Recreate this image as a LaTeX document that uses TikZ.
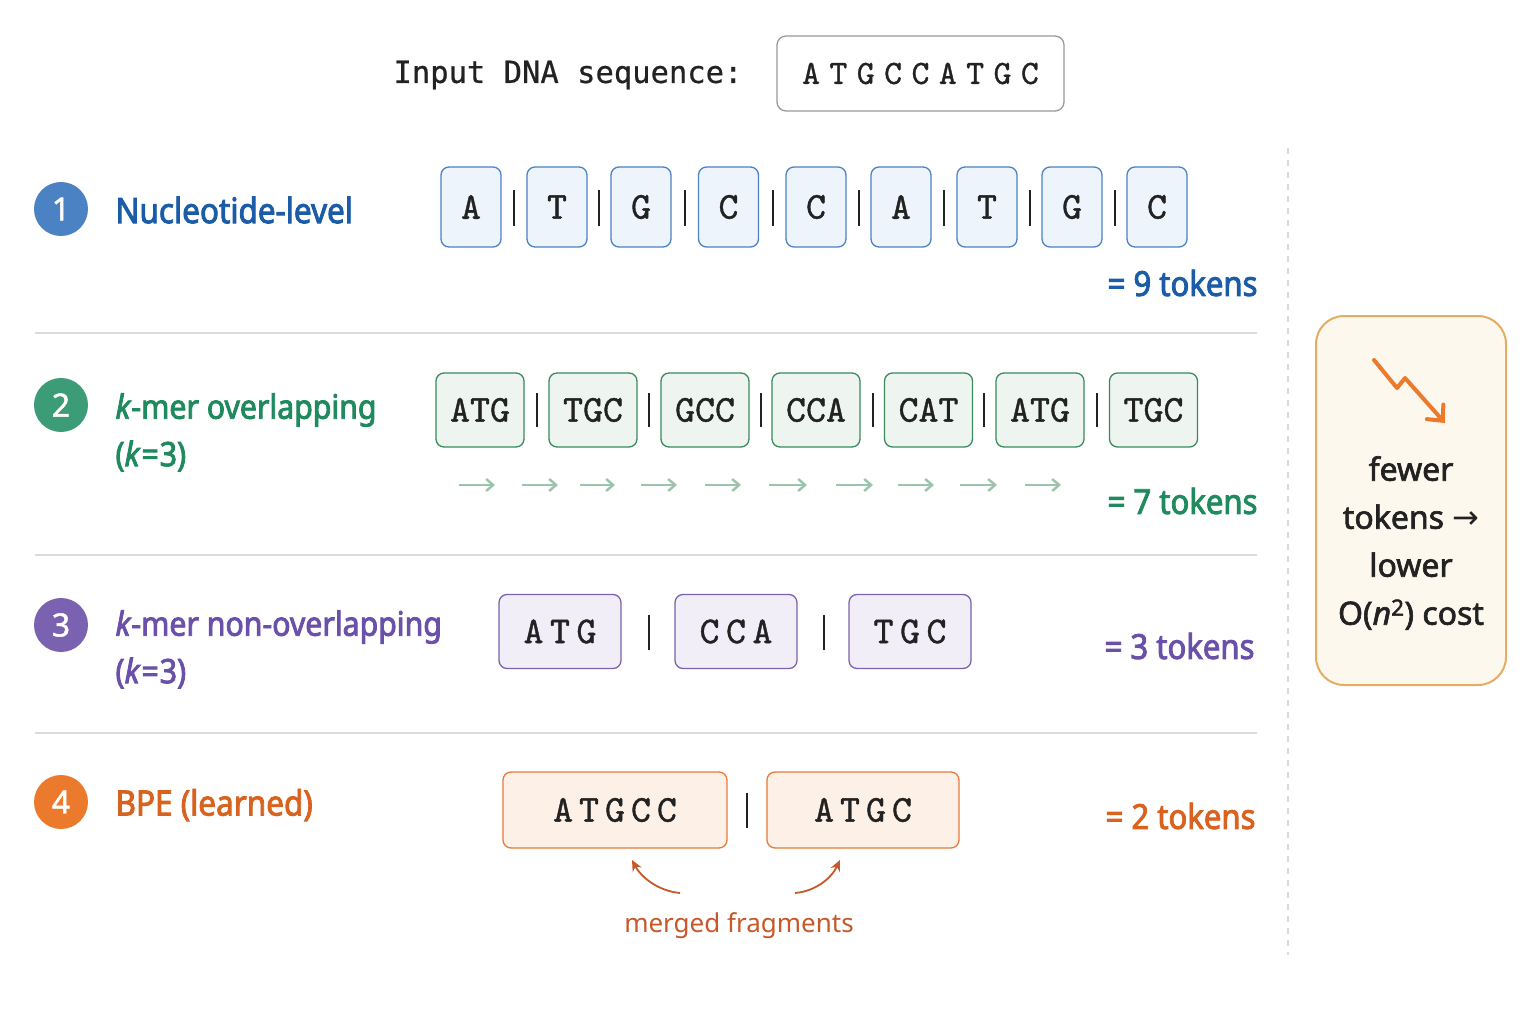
\documentclass[tikz,border=0pt]{standalone}
\usepackage{fontspec}
\setmainfont{Noto Sans}
\setmonofont{lmmono10-regular}[Extension=.otf, FakeBold=1.0]
\newfontfamily\labf{Noto Sans}[FakeStretch=0.9, FakeBold=2.5]
\newfontfamily\inmono{DejaVu Sans Mono}[FakeBold=0.6]
\newfontfamily\boxf{Noto Sans}[FakeBold=2.0]
\newfontfamily\numf{Noto Sans}[FakeBold=1.5]
\newfontfamily\dv{DejaVu Sans}
\usetikzlibrary{arrows.meta}
\definecolor{cblue}{HTML}{4A82C4}
\definecolor{tblue}{HTML}{1A5CA8}
\definecolor{fblue}{HTML}{EEF4FC}
\definecolor{cgreen}{HTML}{3D9C78}
\definecolor{tgreen}{HTML}{1F8A5E}
\definecolor{bgreen}{HTML}{3A8A5E}
\definecolor{fgreen}{HTML}{EEF5F0}
\definecolor{agreen}{HTML}{9CC4AC}
\definecolor{cpurple}{HTML}{7A62B0}
\definecolor{tpurple}{HTML}{6A50A8}
\definecolor{fpurple}{HTML}{F1EEF8}
\definecolor{corange}{HTML}{EC7A2C}
\definecolor{torange}{HTML}{D9621E}
\definecolor{borange}{HTML}{E8793A}
\definecolor{forange}{HTML}{FDF0E6}
\definecolor{morange}{HTML}{C8582A}
\definecolor{sepgray}{HTML}{DADADA}
\definecolor{darktext}{HTML}{222222}
\definecolor{rboxfill}{HTML}{FDF8EE}
\definecolor{rboxdraw}{HTML}{E5AD62}
\begin{document}
\begin{tikzpicture}[x=1pt,y=-1pt,
  tok/.style={draw, rounded corners=8pt, line width=1.3pt, inner sep=0pt,
    text=darktext, font=\ttfamily\fontsize{38}{38}\selectfont},
  numc/.style={circle, fill=#1, minimum size=54pt, inner sep=0pt, text=white,
    font=\numf\fontsize{32}{32}\selectfont},
  lab/.style={anchor=west, text=#1, font=\labf\fontsize{35}{35}\selectfont},
  labk/.style={anchor=west, text=#1, font=\labf\fontsize{33.6}{33.6}\selectfont},
  cnt/.style={anchor=east, text=#1, font=\labf\fontsize{34.5}{34.5}\selectfont},
  bar/.style={line width=2pt, darktext},
  sep/.style={line width=1.5pt, sepgray},
  small/.style={-{Straight Barb[length=7pt,width=12pt]}, line width=2.4pt, agreen}
]
\useasboundingbox[fill=white] (0,0) rectangle (1536,1024);

% title
\node[anchor=west, text=darktext, font=\inmono\fontsize{30.5}{30.5}\selectfont] (intitle) at (390,75) {Input DNA sequence:};
\node[draw=gray!80, line width=1.3pt, rounded corners=9pt, minimum width=287pt, minimum height=75pt,
  text=darktext, font=\ttfamily\fontsize{34}{34}\selectfont] (inseq) at (920.5,73.5)
  {A\hspace{9.5pt}T\hspace{9.5pt}G\hspace{9.5pt}C\hspace{9.5pt}C\hspace{9.5pt}A\hspace{9.5pt}T\hspace{9.5pt}G\hspace{9.5pt}C};

% row 1
\node[numc=cblue] (n1) at (61,209) {1};
\node[lab=tblue] (l1) at (112,210) {Nucleotide-level};
\foreach \x/\c [count=\i] in {471/A,557/T,641/G,728.5/C,816/C,901/A,987/T,1072/G,1157/C}
  \node[tok, draw=cblue, fill=fblue, minimum width=60pt, minimum height=80pt] (a\i) at (\x,207) {\c};
\foreach \x in {514,599,684.5,772.5,858.5,944,1029.5,1114.5}
  \draw[bar] (\x,190) -- (\x,226);
\node[cnt=tblue] (c1) at (1261,283) {= 9 tokens};
\draw[sep] (35,333) -- (1257,333);

% row 2
\node[numc=cgreen] (n2) at (61,405) {2};
\node[labk=tgreen] (l2) at (112,410) {\textit{k}-mer overlapping};
\node[labk=tgreen] (l2b) at (112,456) {(\textit{k}\hspace{1pt}=\hspace{1pt}3)};
\foreach \x/\c [count=\i] in {480/ATG,593/TGC,705/GCC,816/CCA,928.5/CAT,1040/ATG,1153.5/TGC}
  \node[tok, draw=bgreen, fill=fgreen, minimum width=88pt, minimum height=74pt] (b\i) at (\x,410) {\c};
\foreach \x in {536.5,649,760.5,872.5,984,1096.5}
  \draw[bar] (\x,393) -- (\x,427);
\foreach \xa/\xb [count=\i] in {459/495,522/558,580/615,641/677,705/741,769/807,836/873,898/934,960/997,1025/1061} {
  \coordinate (sa\i) at (\xa,485);
  \coordinate (sb\i) at (\xb,485);
  \draw[small] (sa\i) -- (sb\i);
}
\node[cnt=tgreen] (c2) at (1261,501) {= 7 tokens};
\draw[sep] (35,555) -- (1257,555);

% row 3
\node[numc=cpurple] (n3) at (61,625) {3};
\node[labk=tpurple] (l3) at (112,627) {\textit{k}-mer non-overlapping};
\node[labk=tpurple] (l3b) at (112,673) {(\textit{k}\hspace{1pt}=\hspace{1pt}3)};
\foreach \x/\c [count=\i] in {560/{A\hspace{6.5pt}T\hspace{6.5pt}G},736/{C\hspace{6.5pt}C\hspace{6.5pt}A},910/{T\hspace{6.5pt}G\hspace{6.5pt}C}}
  \node[tok, draw=cpurple, fill=fpurple, minimum width=122pt, minimum height=74pt] (p\i) at (\x,631.5) {\c};
\foreach \x in {649,824}
  \draw[bar] (\x,615) -- (\x,650);
\node[cnt=tpurple] (c3) at (1258,646) {= 3 tokens};
\draw[sep] (35,733) -- (1257,733);

% row 4
\node[numc=corange] (n4) at (61,802) {4};
\node[lab=torange] (l4) at (112,805) {BPE (learned)};
\node[tok, draw=borange, fill=forange, minimum width=224pt, minimum height=76pt] (o1) at (615,810)
  {A\hspace{6pt}T\hspace{6pt}G\hspace{6pt}C\hspace{6pt}C};
\node[tok, draw=borange, fill=forange, minimum width=192pt, minimum height=76pt] (o2) at (863,810)
  {A\hspace{6pt}T\hspace{6pt}G\hspace{6pt}C};
\draw[bar] (747,793) -- (747,828);
\node[cnt=torange] (c4) at (1259,816) {= 2 tokens};
\node[text=morange, font=\fontsize{26}{26}\selectfont] (mf) at (739,926) {merged fragments};
\coordinate (ml0) at (680,893);
\coordinate (ml1) at (632,860);
\coordinate (mr0) at (795,893);
\coordinate (mr1) at (840,860);
\draw[-{Stealth[length=11pt,width=10pt]}, line width=1.8pt, morange] (ml0) .. controls (658,891) and (641,877) .. (ml1);
\draw[-{Stealth[length=11pt,width=10pt]}, line width=1.8pt, morange] (mr0) .. controls (817,891) and (832,877) .. (mr1);

% dashed divider
\draw[sepgray, line width=1.5pt, dash pattern=on 6pt off 6pt] (1288,148) -- (1288,955);

% right box
\node[draw=rboxdraw, fill=rboxfill, line width=2pt, rounded corners=28pt, minimum width=190pt, minimum height=369pt] (rbox) at (1411,500.5) {};
\coordinate (z0) at (1374,360);
\coordinate (z1) at (1397,388);
\coordinate (z2) at (1405,378);
\coordinate (z3) at (1445,423);
\draw[corange, line width=4pt, line cap=round, line join=round, -{Straight Barb[length=12pt,width=22pt,line cap=round]}] (z0) -- (z1) -- (z2) -- (z3);
\node[align=center, text=darktext, font=\boxf\fontsize{32}{48}\selectfont] (rtext) at (1411,543)
  {fewer\\tokens {\dv→}\\lower\\O(\textit{n}\textsuperscript{2}) cost};
\end{tikzpicture}
\end{document}
